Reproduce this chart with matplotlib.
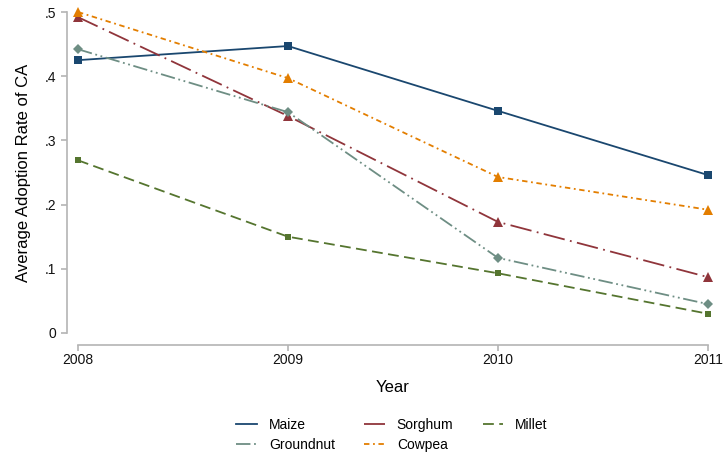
import matplotlib

matplotlib.use("Agg")
import matplotlib.pyplot as plt
from matplotlib.ticker import FixedLocator, FixedFormatter

years = [2008, 2009, 2010, 2011]
maize = [0.425, 0.447, 0.346, 0.246]
sorghum = [0.492, 0.338, 0.173, 0.087]
millet = [0.269, 0.150, 0.093, 0.030]
groundnut = [0.442, 0.344, 0.117, 0.045]
cowpea = [0.500, 0.397, 0.243, 0.192]

y_ticks = [0, 0.1, 0.2, 0.3, 0.4, 0.5]
y_tick_labels = ["0", ".1", ".2", ".3", ".4", ".5"]

plt.rcParams["font.family"] = ["Liberation Sans", "DejaVu Sans"]

W, H = 723, 458
figure = plt.figure(figsize=(W / 100, H / 100), dpi=100)
axis = figure.add_axes([78 / W, (H - 333) / H, (708 - 78) / W, (333 - 12) / H])

series = [
    ("Maize", maize, "#1a476f", "-", "s", 6),
    ("Sorghum", sorghum, "#90353b", (0, (12, 3, 1, 3)), "^", 7),
    ("Millet", millet, "#55752f", (0, (6, 3)), "s", 4),
    ("Groundnut", groundnut, "#6e8e84", (0, (8, 2, 1, 2, 1, 2)), "D", 5),
    ("Cowpea", cowpea, "#e37e00", (0, (3, 2, 1, 2)), "^", 7),
]

handles = {}
for name, values, color, style, marker, size in series:
    (line,) = axis.plot(
        years,
        values,
        color=color,
        linestyle=style,
        linewidth=1.3,
        marker=marker,
        markersize=size,
        markeredgewidth=0,
        label=name,
        clip_on=False,
    )
    handles[name] = line

axis.set_xlim(2008, 2011)
axis.set_ylim(0, 0.5)
axis.xaxis.set_major_locator(FixedLocator(years))
axis.set_xticklabels([str(y) for y in years])
axis.yaxis.set_major_locator(FixedLocator(y_ticks))
axis.yaxis.set_major_formatter(FixedFormatter(y_tick_labels))

for side in ("top", "right"):
    axis.spines[side].set_visible(False)
axis.spines["left"].set_position(("outward", 8))
axis.spines["bottom"].set_position(("outward", 8.6))
for side in ("left", "bottom"):
    axis.spines[side].set_color("#b4b4b4")
    axis.spines[side].set_linewidth(1.2)

axis.tick_params(axis="both", colors="#b4b4b4", length=4, width=1.2, labelsize=10,
                 labelcolor="#111111")
axis.tick_params(axis="x", pad=2)

axis.set_xlabel("Year", fontsize=12, labelpad=9)
axis.set_ylabel("Average Adoption Rate of CA", fontsize=12, labelpad=10)

order = ["Maize", "Groundnut", "Sorghum", "Cowpea", "Millet"]
figure.legend(
    [handles[n] for n in order],
    order,
    ncol=3,
    loc="center",
    bbox_to_anchor=(392 / W, 1 - 435 / H),
    frameon=False,
    fontsize=10,
    handlelength=1.5,
    columnspacing=2.1,
    labelspacing=0.45,
    handletextpad=0.85,
    markerscale=0,
)

figure.savefig("out.png", dpi=100)
